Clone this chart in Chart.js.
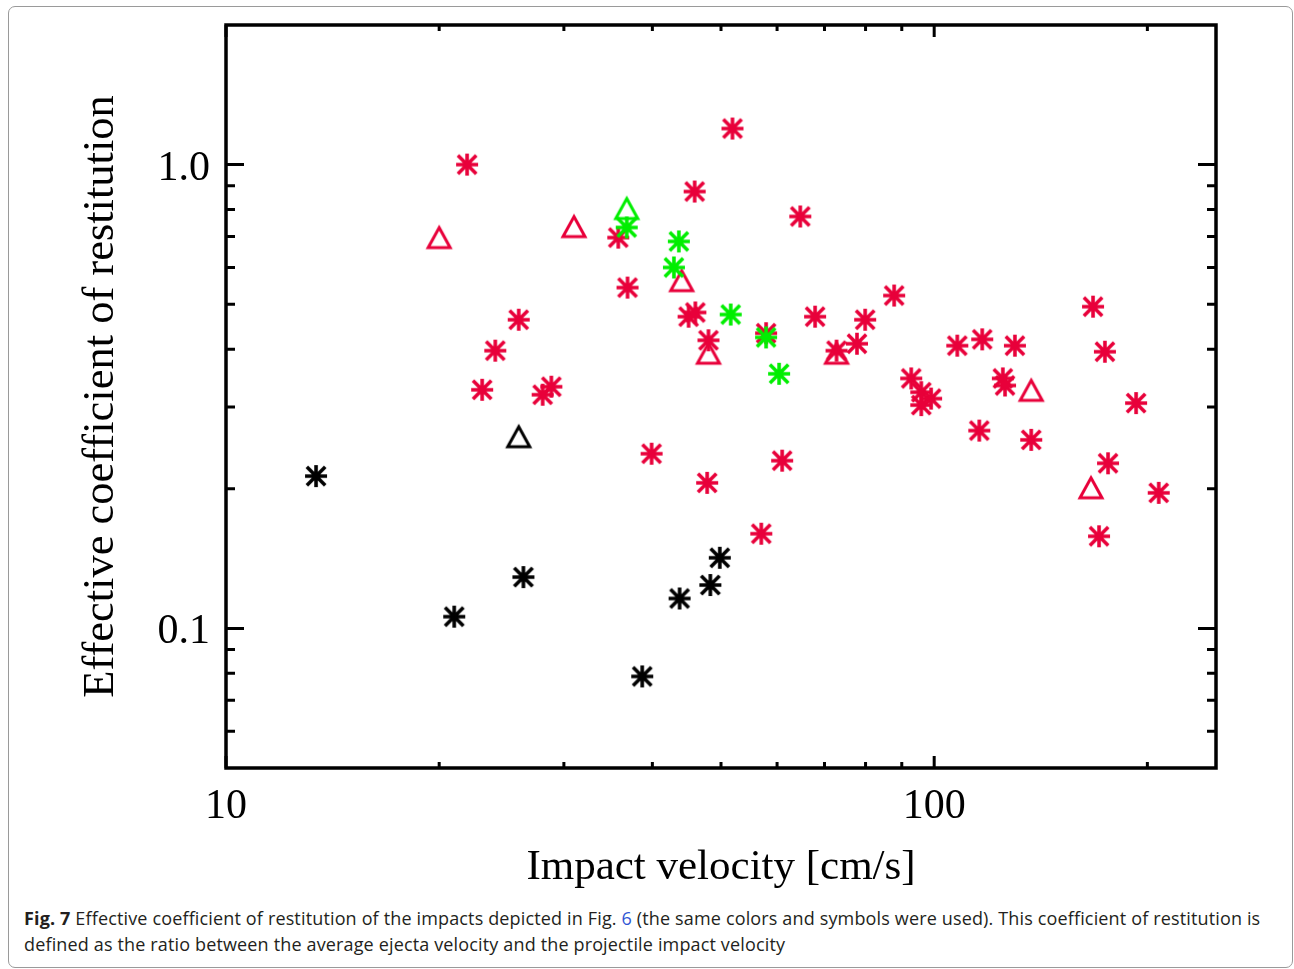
<!DOCTYPE html>
<html>
<head>
<meta charset="utf-8">
<script src="https://cdn.jsdelivr.net/npm/chart.js@4.4.1/dist/chart.umd.min.js"></script>
<style>
    html, body { margin: 0; padding: 0; background: #fff; }
    #frame {
        position: absolute; left: 8px; top: 6px; width: 1285px; height: 962px;
        border: 1px solid #9a9a9a; border-radius: 7px; box-sizing: border-box;
    }
    #chart { position: absolute; left: 0; top: 0; }
    #caption {
        position: absolute; left: 24px; top: 905px; width: 1265px; white-space: nowrap;
        font-family: 'Open Sans', sans-serif; font-size: 18px; letter-spacing: 0.15px;
        line-height: 26px; color: #231f20;
    }
    #caption .ref { color: #2f55d4; }
</style>
</head>
<body>
<div id="frame"></div>
<canvas id="chart" width="1294" height="900"></canvas>
<div id="caption"><b>Fig. 7</b> Effective coefficient of restitution of the impacts depicted in Fig. <span class="ref">6</span> (the same colors and symbols were used). This coefficient of restitution is<br>defined as the ratio between the average ejecta velocity and the projectile impact velocity</div>
<script>
// impact velocity [cm/s] and effective coefficient of restitution
const redStarX = [21.9, 51.9, 45.9, 64.7, 35.8, 36.9, 25.9, 24.0, 23.0, 28.8, 28.0, 39.9, 47.8, 57.0, 61.0,
    45.0, 46.0, 48.0, 57.9, 67.9, 79.9, 87.8, 72.8, 77.8, 107.8, 116.9, 130.0, 92.8, 95.9, 99.0, 95.9,
    125.0, 125.9, 167.6, 174.2, 115.8, 137.1, 192.8, 176.0, 207.5, 170.9];
const redStarY = [1.0, 1.196, 0.875, 0.773, 0.696, 0.543, 0.463, 0.397, 0.327, 0.332, 0.319, 0.238, 0.206, 0.160, 0.230,
    0.470, 0.480, 0.418, 0.433, 0.470, 0.463, 0.522, 0.397, 0.411, 0.407, 0.420, 0.407, 0.346, 0.323, 0.313, 0.303,
    0.346, 0.334, 0.494, 0.395, 0.267, 0.255, 0.306, 0.227, 0.196, 0.158];
const redTriX = [20.0, 31.0, 44.0, 48.0, 72.8, 137.1, 166.5];
const redTriY = [0.696, 0.735, 0.562, 0.392, 0.392, 0.326, 0.201];
const greenStarX = [36.8, 43.6, 42.9, 51.6, 57.9, 60.4];
const greenStarY = [0.732, 0.683, 0.600, 0.475, 0.424, 0.354];
const greenTriX = [36.8];
const greenTriY = [0.804];
const blackStarX = [13.4, 21.0, 26.3, 38.7, 43.7, 48.3, 49.8];
const blackStarY = [0.213, 0.106, 0.129, 0.0788, 0.116, 0.124, 0.142];
const blackTriX = [25.9];
const blackTriY = [0.259];

const xLabelTicks = [10, 100];
const xMinorTicks = [20, 30, 40, 50, 60, 70, 80, 90, 200];
const yLabelTicks = [0.1, 1.0];
const yMinorTicks = [0.06, 0.07, 0.08, 0.09, 0.2, 0.3, 0.4, 0.5, 0.6, 0.7, 0.8, 0.9];

const RED = '#e8003a';
const GREEN = '#00ee00';
const BLACK = '#000000';
const SERIF = "'Liberation Serif', 'DejaVu Serif', serif";

function zip(xs, ys) {
    return xs.map((x, i) => ({ x, y: ys[i] }));
}

// IDL-like asterisk symbol
function makeStar(color) {
    const size = 26, c = size / 2, r = 11, d = 9.2;
    const cv = document.createElement('canvas');
    cv.width = size; cv.height = size;
    const ctx = cv.getContext('2d');
    ctx.strokeStyle = color;
    ctx.lineWidth = 3.6;
    ctx.beginPath();
    ctx.moveTo(c, c - r); ctx.lineTo(c, c + r);
    ctx.moveTo(c - r, c); ctx.lineTo(c + r, c);
    ctx.moveTo(c - d, c - d); ctx.lineTo(c + d, c + d);
    ctx.moveTo(c - d, c + d); ctx.lineTo(c + d, c - d);
    ctx.stroke();
    return cv;
}

// open triangle symbol
function makeTriangle(color) {
    const size = 30, c = size / 2;
    const cv = document.createElement('canvas');
    cv.width = size; cv.height = size;
    const ctx = cv.getContext('2d');
    ctx.strokeStyle = color;
    ctx.lineWidth = 3;
    ctx.lineJoin = 'miter';
    ctx.beginPath();
    ctx.moveTo(c, c - 10);
    ctx.lineTo(c + 11, c + 10);
    ctx.lineTo(c - 11, c + 10);
    ctx.closePath();
    ctx.stroke();
    return cv;
}

function dataset(label, xs, ys, style) {
    return {
        label,
        data: zip(xs, ys),
        pointStyle: style,
        pointRadius: 12,
        pointHoverRadius: 12,
    };
}

// frame with inward ticks on all four sides
const frameTicks = {
    id: 'frameTicks',
    beforeDatasetsDraw(chart) {
        const { ctx, chartArea: { left, right, top, bottom }, scales: { x, y } } = chart;
        ctx.save();
        ctx.strokeStyle = '#000';
        ctx.lineWidth = 3.5;
        ctx.strokeRect(left, top, right - left, bottom - top);
        ctx.lineWidth = 3;
        ctx.beginPath();
        const yTick = (v, len) => {
            const py = y.getPixelForValue(v);
            ctx.moveTo(left, py); ctx.lineTo(left + len, py);
            ctx.moveTo(right, py); ctx.lineTo(right - len, py);
        };
        const xTick = (v, len) => {
            const px = x.getPixelForValue(v);
            ctx.moveTo(px, bottom); ctx.lineTo(px, bottom - len);
            ctx.moveTo(px, top); ctx.lineTo(px, top + len);
        };
        yMinorTicks.forEach(v => yTick(v, 9));
        yLabelTicks.forEach(v => yTick(v, 18));
        xMinorTicks.forEach(v => xTick(v, 6));
        xLabelTicks.forEach(v => xTick(v, 12));
        ctx.stroke();
        ctx.restore();
    }
};

new Chart(document.getElementById('chart'), {
    type: 'scatter',
    data: {
        datasets: [
            dataset('black tri', blackTriX, blackTriY, makeTriangle(BLACK)),
            dataset('black star', blackStarX, blackStarY, makeStar(BLACK)),
            dataset('green tri', greenTriX, greenTriY, makeTriangle(GREEN)),
            dataset('green star', greenStarX, greenStarY, makeStar(GREEN)),
            dataset('red tri', redTriX, redTriY, makeTriangle(RED)),
            dataset('red star', redStarX, redStarY, makeStar(RED)),
        ]
    },
    options: {
        responsive: false,
        animation: false,
        layout: { padding: { top: 25, right: 78, left: 0, bottom: 0 } },
        plugins: {
            legend: { display: false },
            tooltip: { enabled: false },
        },
        scales: {
            x: {
                type: 'logarithmic',
                position: 'bottom',
                min: 10,
                max: 250,
                grid: { display: false, drawTicks: false },
                border: { display: false },
                ticks: {
                    autoSkip: false,
                    maxRotation: 0,
                    padding: 14,
                    color: '#000',
                    font: { family: SERIF, size: 42 },
                    callback: v => String(v),
                },
                afterBuildTicks: s => { s.ticks = xLabelTicks.map(v => ({ value: v })); },
                afterFit: s => { s.height = 132; s.paddingLeft = 0; s.paddingRight = 0; },
                title: {
                    display: true,
                    text: 'Impact velocity [cm/s]',
                    color: '#000',
                    font: { family: SERIF, size: 43 },
                    padding: { top: 0, bottom: 6 },
                },
            },
            y: {
                type: 'logarithmic',
                position: 'left',
                min: 0.05,
                max: 2.0,
                grid: { display: false, drawTicks: false },
                border: { display: false },
                ticks: {
                    autoSkip: false,
                    padding: 16,
                    labelOffset: 4,
                    color: '#000',
                    font: { family: SERIF, size: 42 },
                    callback: v => v.toFixed(1),
                },
                afterBuildTicks: s => { s.ticks = yLabelTicks.map(v => ({ value: v })); },
                afterFit: s => { s.width = 226; s.paddingTop = 0; s.paddingBottom = 0; },
                title: {
                    display: true,
                    text: 'Effective coefficient of restitution',
                    color: '#000',
                    font: { family: SERIF, size: 44.5 },
                    padding: { top: 75, bottom: 0 },
                },
            },
        },
    },
    plugins: [frameTicks],
});
</script>
</body>
</html>
